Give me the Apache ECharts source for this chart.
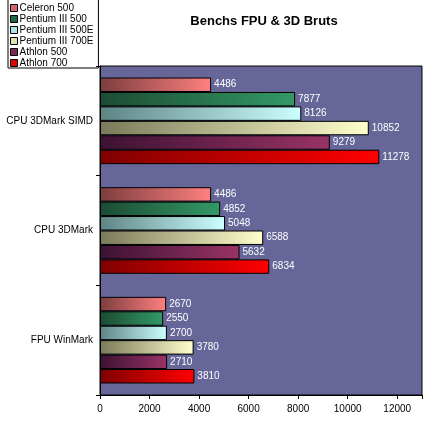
<!DOCTYPE html>
<html>
<head>
<meta charset="utf-8">
<script src="https://cdn.jsdelivr.net/npm/echarts@6/dist/echarts.min.js"></script>
<style>
html, body { margin: 0; padding: 0; background: #fff; }
#chart { width: 443px; height: 427px; }
</style>
</head>
<body>
<div id="chart"></div>
<script>
// categories, bottom to top as echarts draws them
var categories = [ 'FPU WinMark', 'CPU 3DMark', 'CPU 3DMark SIMD' ];
var cpuNames = [ 'Celeron 500', 'Pentium III 500', 'Pentium III 500E',
	'Pentium III 700E', 'Athlon 500', 'Athlon 700' ];
var celeron500 = [ 2670, 4486, 4486 ];
var p3_500 = [ 2550, 4852, 7877 ];
var p3_500e = [ 2700, 5048, 8126 ];
var p3_700e = [ 3780, 6588, 10852 ];
var athlon500 = [ 2710, 5632, 9279 ];
var athlon700 = [ 3810, 6834, 11278 ];
var xTicks = [ 0, 2000, 4000, 6000, 8000, 10000, 12000 ];

var values = [ celeron500, p3_500, p3_500e, p3_700e, athlon500, athlon700 ];
var darkColors = [ '#7c3e3e', '#1c4c34', '#5e8484', '#7a7a5a', '#3c1232', '#800000' ];
var lightColors = [ '#ff8080', '#339966', '#ccffff', '#ffffcc', '#993366', '#ff0000' ];
var iconColors = [ '#d06a6a', '#1e6a44', '#b0e4e4', '#e0e0b0', '#7a2858', '#e00000' ];
var plotColor = '#666699';
var font = 'Liberation Sans';

var series = [];
// series 0 lands at the top of each group for horizontal bars
for (var i = 0; i < cpuNames.length; i++) {
	series.push({
		name : cpuNames[i],
		type : 'bar',
		data : values[i],
		barGap : '0%',
		barCategoryGap : '21%',
		itemStyle : {
			color : new echarts.graphic.LinearGradient(0, 0, 1, 0, [ {
				offset : 0,
				color : darkColors[i]
			}, {
				offset : 1,
				color : lightColors[i]
			} ]),
			borderColor : '#000',
			borderWidth : 1
		},
		// anchored at the bar end from inside, then pushed out to the right
		label : {
			show : true,
			position : 'insideRight',
			distance : 0,
			align : 'left',
			offset : [ 3, 0 ],
			color : '#fff',
			fontFamily : font,
			fontSize : 10,
			textBorderColor : plotColor,
			textBorderWidth : 0.001
		}
	});
}

var legendData = cpuNames.map(function(n, i) {
	return {
		name : n,
		itemStyle : {
			color : iconColors[i],
			borderColor : '#000',
			borderWidth : 1
		}
	};
});

var option = {
	animation : false,
	title : {
		text : 'Benchs FPU & 3D Bruts',
		left : 259,
		textAlign : 'center',
		top : 10,
		textStyle : {
			fontSize : 13,
			fontWeight : 'bold',
			color : '#000',
			fontFamily : font
		}
	},
	legend : {
		data : legendData,
		orient : 'vertical',
		left : 8,
		top : -2,
		icon : 'rect',
		itemWidth : 7,
		itemHeight : 7,
		itemGap : 1,
		padding : [ 5, 5, 0, 2 ],
		borderColor : '#000',
		borderWidth : 1,
		textStyle : {
			fontSize : 10,
			lineHeight : 10,
			color : '#000',
			fontFamily : font,
			padding : [ 0, 0, 0, -3 ]
		}
	},
	grid : {
		left : 100,
		top : 66,
		right : 21,
		bottom : 32,
		show : true,
		backgroundColor : plotColor,
		borderColor : '#000',
		borderWidth : 1
	},
	xAxis : {
		type : 'value',
		min : 0,
		max : 13000,
		interval : 2000,
		axisLine : {
			show : true,
			lineStyle : {
				color : '#000'
			}
		},
		axisTick : {
			show : true,
			length : 4,
			lineStyle : {
				color : '#000'
			}
		},
		axisLabel : {
			color : '#000',
			fontFamily : font,
			fontSize : 10,
			margin : 9,
			formatter : function(v) {
				return xTicks.indexOf(v) >= 0 ? String(v) : '';
			}
		},
		splitLine : {
			show : false
		}
	},
	yAxis : {
		type : 'category',
		data : categories,
		axisLine : {
			show : true,
			lineStyle : {
				color : '#000'
			}
		},
		axisTick : {
			show : true,
			length : 4,
			lineStyle : {
				color : '#000'
			}
		},
		axisLabel : {
			color : '#000',
			fontFamily : font,
			fontSize : 10,
			margin : 7
		}
	},
	series : series
};

var graph = echarts.init(document.getElementById('chart'));
graph.setOption(option);
</script>
</body>
</html>
